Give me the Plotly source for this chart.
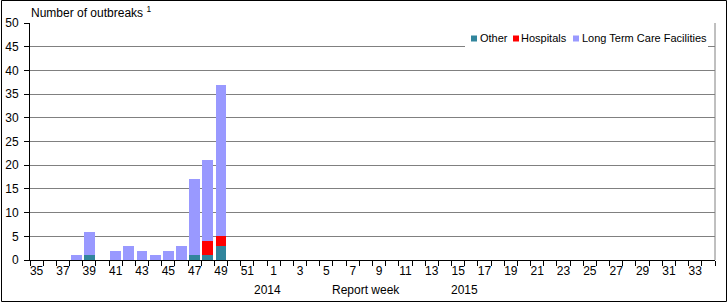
import plotly.graph_objects as go

weeks = [str(w) for w in list(range(35, 53)) + list(range(1, 35))]
other = {"39": 1, "47": 1, "48": 1, "49": 3}
hospitals = {"48": 3, "49": 2}
ltcf = {"38": 1, "39": 5, "41": 2, "42": 3, "43": 2, "44": 1, "45": 2, "46": 3,
        "47": 16, "48": 17, "49": 32}
series_names = ["Other", "Hospitals", "Long Term Care Facilities"]
series_colors = ["#31859C", "#FF0000", "#9999FF"]
other_vals = [other.get(w, 0) for w in weeks]
hosp_vals = [hospitals.get(w, 0) for w in weeks]
ltcf_vals = [ltcf.get(w, 0) for w in weeks]
week_index = list(range(len(weeks)))
label_idx = [i for i, w in enumerate(weeks) if int(w) % 2 == 1]
label_txt = [weeks[i] for i in label_idx]

FONT = "Liberation Sans, Arial, sans-serif"
W, H = 728, 304
ML, MR, MT, MB = 30, 13, 23, 44
PW, PH = W - ML - MR, H - MT - MB


def px_x(px):
    return (px - ML) / PW


def px_y(py):
    return (H - MB - py) / PH


fig = go.Figure()
for name, color, vals in zip(series_names, series_colors, [other_vals, hosp_vals, ltcf_vals]):
    fig.add_bar(x=week_index, y=vals, name=name, customdata=weeks,
                hovertemplate="Week %{customdata}: %{y}<extra>" + name + "</extra>",
                marker=dict(color=color, line_width=0))

fig.update_layout(
    width=W, height=H,
    margin=dict(l=ML, r=MR, t=MT, b=MB, pad=0, autoexpand=False),
    barmode="stack", bargap=0.17,
    paper_bgcolor="white", plot_bgcolor="white",
    font=dict(family=FONT, size=12, color="black"),
    showlegend=False,
    xaxis=dict(range=[-0.5, len(weeks) - 0.5], tickmode="array",
               tickvals=label_idx, ticktext=label_txt, tickangle=0,
               ticks="outside", ticklen=0, tickcolor="black", automargin=False,
               minor=dict(ticks="outside", tick0=-0.5, dtick=1, ticklen=5,
                          tickcolor="black", showgrid=False),
               showline=True, linecolor="black", linewidth=1, showgrid=False,
               zeroline=False, tickfont=dict(size=12)),
    yaxis=dict(range=[0, 50], dtick=5, tick0=0, ticks="outside", ticklen=5,
               tickcolor="black", showline=True, linecolor="black", linewidth=1,
               showgrid=True, gridcolor="#808080", gridwidth=1, zeroline=False,
               automargin=False, ticklabelstandoff=3, tickfont=dict(size=12)),
)

# axis sub-labels
for xv, txt in [(17.5, "2014"), (25, "Report week"), (32.5, "2015")]:
    fig.add_annotation(x=xv, xref="x", y=px_y(290), yref="paper", text=txt,
                       showarrow=False, yanchor="middle", font=dict(size=12))

fig.add_annotation(x=px_x(29), xref="paper", y=px_y(12), yref="paper",
                   text="Number of outbreaks <sup>1</sup>", showarrow=False,
                   xanchor="left", yanchor="middle", font=dict(size=12))

# legend (drawn manually to match compact layout)
fig.add_shape(type="rect", xref="paper", yref="paper",
              x0=px_x(465), x1=px_x(708), y0=px_y(52), y1=px_y(28),
              line_width=0, fillcolor="white", layer="above")
sw_x = [471, 513, 573]
tx_x = [478, 519, 580]
for name, color, sx, tx in zip(series_names, series_colors, sw_x, tx_x):
    fig.add_shape(type="rect", xref="paper", yref="paper",
                  x0=px_x(sx), x1=px_x(sx + 6), y0=px_y(41.5), y1=px_y(35.5),
                  line_width=0, fillcolor=color, layer="above")
    fig.add_annotation(x=px_x(tx), xref="paper", y=px_y(38.5), yref="paper",
                       text=name, showarrow=False, xanchor="left", yanchor="middle",
                       font=dict(size=11))

# right plot border (gray)
fig.add_shape(type="line", xref="paper", yref="paper", x0=1, x1=1, y0=0, y1=1,
              line=dict(color="#808080", width=1))
# outer chart border
fig.add_shape(type="rect", xref="paper", yref="paper",
              x0=px_x(1.5), x1=px_x(726.5), y0=px_y(301.5), y1=px_y(0.5),
              line=dict(color="black", width=1), fillcolor="rgba(0,0,0,0)", layer="above")

fig.write_html("out.html")
